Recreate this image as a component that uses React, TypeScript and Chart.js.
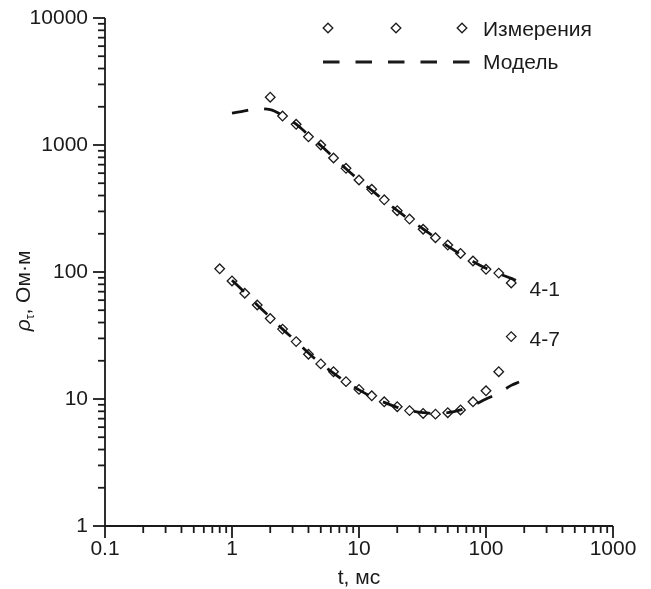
import React, { useEffect, useRef } from "react";
import { Chart, registerables } from "chart.js";

Chart.register(...registerables);

// Measured apparent resistivity, sounding 4-1
const meas41Time = [2, 2.5, 3.2, 4, 5, 6.3, 7.9, 10, 12.6, 15.8, 20, 25, 32, 40, 50, 63, 79, 100, 126, 158];
const meas41Rho = [2380, 1690, 1455, 1160, 1000, 790, 655, 530, 448, 370, 304, 261, 217, 186, 163, 140, 122, 105, 98, 82];

// Measured apparent resistivity, sounding 4-7
const meas47Time = [0.8, 1, 1.26, 1.58, 2, 2.5, 3.2, 4, 5, 6.3, 7.9, 10, 12.6, 15.8, 20, 25, 32, 40, 50, 63, 79, 100, 126, 158];
const meas47Rho = [106, 85, 68, 55, 43, 35.5, 28.3, 22.5, 18.9, 16.4, 13.7, 11.9, 10.6, 9.5, 8.7, 8.1, 7.7, 7.6, 7.8, 8.2, 9.5, 11.6, 16.4, 31];

// Model curves
const model41Time = [1, 1.26, 1.58, 2, 2.5, 3.2, 4, 5, 6.3, 7.9, 10, 12.6, 15.8, 20, 25, 32, 40, 50, 63, 79, 100, 126, 158, 172];
const model41Rho = [1780, 1860, 1930, 1900, 1710, 1460, 1200, 990, 800, 650, 530, 440, 365, 305, 258, 218, 186, 160, 138, 121, 107, 97, 89, 86];
const model47Time = [1, 1.26, 1.58, 2, 2.5, 3.2, 4, 5, 6.3, 7.9, 10, 12.6, 15.8, 20, 25, 32, 40, 50, 63, 79, 100, 126, 158, 182];
const model47Rho = [86, 69, 55, 44, 35.5, 28.5, 23, 19, 16, 13.6, 11.8, 10.4, 9.4, 8.6, 8.1, 7.8, 7.7, 7.8, 8.2, 8.9, 10, 11.1, 12.8, 13.6];

// Axis decades
const xDecades = [0.1, 1, 10, 100, 1000];
const yDecades = [1, 10, 100, 1000, 10000];

// Curve captions: text, anchor time, anchor resistivity
const curveLabels = [
  { text: "4-1", t: 220, rho: 72 },
  { text: "4-7", t: 220, rho: 29 },
];

const FONT = "Liberation Sans, Arial, Helvetica, sans-serif";
const FS = 21;
const INK = "#1a1a1a";

const toXY = (ts: number[], vs: number[]) => ts.map((t, i) => ({ x: t, y: vs[i] }));

const decorPlugin = {
  id: "decor",
  afterDraw(chart: any) {
    const ctx: CanvasRenderingContext2D = chart.ctx;
    const xs = chart.scales.x;
    const ys = chart.scales.y;
    const { left, right, top, bottom } = chart.chartArea;
    ctx.save();
    ctx.strokeStyle = INK;
    ctx.lineWidth = 1.8;
    ctx.lineCap = "butt";

    // axis lines
    ctx.beginPath();
    ctx.moveTo(left, top);
    ctx.lineTo(left, bottom);
    ctx.moveTo(left, bottom);
    ctx.lineTo(right, bottom);
    ctx.stroke();

    // x ticks (outward, down)
    for (let d = 0; d < xDecades.length; d++) {
      const base = xDecades[d];
      for (let m = 1; m <= 9; m++) {
        const v = base * m;
        if (v > xs.max * 1.0001) break;
        const px = xs.getPixelForValue(v);
        const len = m === 1 ? 12 : 7;
        ctx.beginPath();
        ctx.moveTo(px, bottom);
        ctx.lineTo(px, bottom + len);
        ctx.stroke();
      }
    }
    // y ticks (outward, left)
    for (let d = 0; d < yDecades.length; d++) {
      const base = yDecades[d];
      for (let m = 1; m <= 9; m++) {
        const v = base * m;
        if (v > ys.max * 1.0001) break;
        const py = ys.getPixelForValue(v);
        const len = m === 1 ? 12 : 7;
        ctx.beginPath();
        ctx.moveTo(left, py);
        ctx.lineTo(left - len, py);
        ctx.stroke();
      }
    }

    // axis titles
    ctx.fillStyle = INK;
    ctx.textBaseline = "middle";
    ctx.textAlign = "center";
    ctx.font = `${FS}px ${FONT}`;
    ctx.fillText("t, мс", (left + right) / 2, 578);

    ctx.save();
    ctx.translate(23, 291);
    ctx.rotate(-Math.PI / 2);
    const rhoFont = `italic ${FS}px ${FONT}`;
    const subFont = `12px ${FONT}`;
    const restFont = `${FS}px ${FONT}`;
    ctx.font = rhoFont;
    const wRho = ctx.measureText("ρ").width;
    ctx.font = subFont;
    const wSub = ctx.measureText("τ").width;
    ctx.font = restFont;
    const rest = ", Ом·м";
    const wRest = ctx.measureText(rest).width;
    let x0 = -(wRho + wSub + wRest) / 2;
    ctx.textAlign = "left";
    ctx.textBaseline = "alphabetic";
    ctx.font = rhoFont;
    ctx.fillText("ρ", x0, 7);
    x0 += wRho;
    ctx.font = subFont;
    ctx.fillText("τ", x0, 11);
    x0 += wSub;
    ctx.font = restFont;
    ctx.fillText(rest, x0, 7);
    ctx.restore();

    // legend
    const drawDiamond = (cx: number, cy: number, r: number) => {
      ctx.beginPath();
      ctx.moveTo(cx, cy - r);
      ctx.lineTo(cx + r, cy);
      ctx.lineTo(cx, cy + r);
      ctx.lineTo(cx - r, cy);
      ctx.closePath();
      ctx.fillStyle = "#fff";
      ctx.fill();
      ctx.lineWidth = 1.3;
      ctx.strokeStyle = INK;
      ctx.stroke();
    };
    [328, 396, 462].forEach((cx) => drawDiamond(cx, 28, 4.8));
    ctx.beginPath();
    ctx.setLineDash([16.5, 16]);
    ctx.lineWidth = 2.8;
    ctx.moveTo(323, 62);
    ctx.lineTo(470, 62);
    ctx.stroke();
    ctx.setLineDash([]);
    ctx.fillStyle = INK;
    ctx.font = `${FS}px ${FONT}`;
    ctx.textAlign = "left";
    ctx.textBaseline = "middle";
    ctx.fillText("Измерения", 483, 30);
    ctx.fillText("Модель", 483, 63);

    // curve captions
    curveLabels.forEach((lb) => {
      ctx.fillText(lb.text, xs.getPixelForValue(lb.t), ys.getPixelForValue(lb.rho));
    });

    ctx.restore();
  },
};

export default function App() {
  const canvasRef = useRef<HTMLCanvasElement | null>(null);

  useEffect(() => {
    document.body.style.margin = "0";
    const canvas = canvasRef.current;
    if (!canvas) return;

    const lineStyle = {
      type: "line" as const,
      borderColor: "#111",
      borderWidth: 2.8,
      borderDash: [16.5, 16],
      pointRadius: 0,
      fill: false,
      cubicInterpolationMode: "monotone" as const,
    };
    const markStyle = {
      type: "line" as const,
      showLine: false,
      pointStyle: "rectRot" as const,
      pointRadius: 4.8,
      pointBorderWidth: 1.3,
      pointBorderColor: INK,
      pointBackgroundColor: "#fff",
      borderColor: INK,
      backgroundColor: "#fff",
    };

    const chart = new Chart(canvas, {
      type: "line",
      data: {
        datasets: [
          { ...lineStyle, label: "Модель 4-1", data: toXY(model41Time, model41Rho) },
          { ...lineStyle, label: "Модель 4-7", data: toXY(model47Time, model47Rho) },
          { ...markStyle, label: "Измерения 4-1", data: toXY(meas41Time, meas41Rho) },
          { ...markStyle, label: "Измерения 4-7", data: toXY(meas47Time, meas47Rho) },
        ],
      },
      options: {
        responsive: false,
        animation: false,
        layout: { padding: { top: 18, right: 38, left: 0, bottom: 0 } },
        plugins: { legend: { display: false }, tooltip: { enabled: false } },
        scales: {
          x: {
            type: "logarithmic",
            min: 0.1,
            max: 1000,
            grid: { display: false, drawTicks: false, tickLength: 0 },
            border: { display: false },
            afterFit: (s: any) => {
              s.height = 63;
              s.paddingLeft = 0;
              s.paddingRight = 0;
            },
            afterBuildTicks: (s: any) => {
              s.ticks = xDecades.map((v) => ({ value: v }));
            },
            ticks: {
              autoSkip: false,
              maxRotation: 0,
              padding: 11,
              color: INK,
              font: { family: FONT, size: FS },
              callback: (v: any) => String(v),
            },
          },
          y: {
            type: "logarithmic",
            min: 1,
            max: 10000,
            grid: { display: false, drawTicks: false, tickLength: 0 },
            border: { display: false },
            afterFit: (s: any) => {
              s.width = 105;
              s.paddingTop = 0;
              s.paddingBottom = 0;
            },
            afterBuildTicks: (s: any) => {
              s.ticks = yDecades.map((v) => ({ value: v }));
            },
            ticks: {
              autoSkip: false,
              padding: 17,
              color: INK,
              font: { family: FONT, size: FS },
              callback: (v: any) => String(v),
            },
          },
        },
      },
      plugins: [decorPlugin],
    });

    return () => chart.destroy();
  }, []);

  return (
    <div style={{ width: 651, height: 589 }}>
      <canvas ref={canvasRef} width={651} height={589} style={{ width: 651, height: 589, display: "block" }} />
    </div>
  );
}
